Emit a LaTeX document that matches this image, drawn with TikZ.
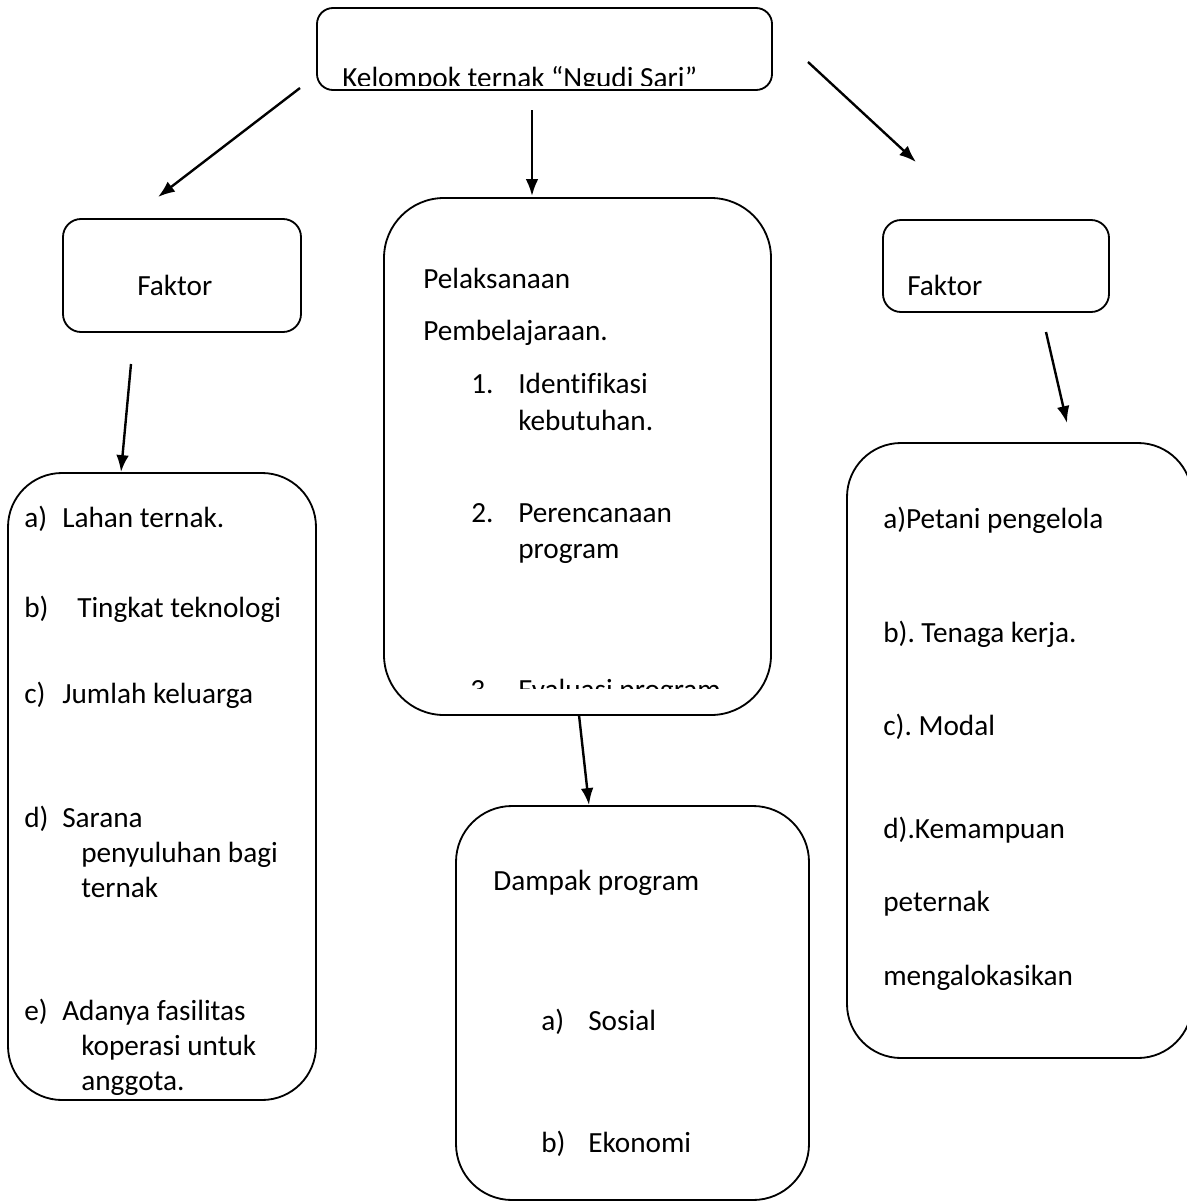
\documentclass[tikz,border=0pt]{standalone}
\usepackage{fontspec}
\setmainfont[Ligatures=NoCommon]{Carlito}
\frenchspacing
\usetikzlibrary{arrows.meta, fit}
\tikzset{>={Latex[length=12pt,width=9pt]}}
\tikzset{box/.style = {draw, line width=1.3pt, inner sep=0pt},
  txt/.style = {anchor=base west, inner sep=0pt, font=\fontsize{20.8}{25}\selectfont},
  link/.style = {->, line width=1.7pt}}

\begin{document}
\begin{tikzpicture}[x=0.025cm, y=-0.025cm]
\useasboundingbox (0,0) rectangle (1187,1203);
\node[box, rounded corners=4mm, fit={(317,8) (772,90)}] (kelompok) {};
\node[box, rounded corners=4.5mm, fit={(63,219) (301,332)}] (faktorA) {};
\node[box, rounded corners=15mm, fit={(384,198) (771,715)}] (pelaksanaan) {};
\node[box, rounded corners=4.5mm, fit={(883,220) (1109,312)}] (faktorB) {};
\node[box, rounded corners=13.5mm, fit={(8,473) (316,1100)}] (daftarA) {};
\node[box, rounded corners=14mm, fit={(456,806) (809,1200)}] (dampak) {};
\node[box, rounded corners=13.5mm, fit={(847,443) (1192,1058)}] (daftarB) {};

\begin{scope}
\clip (317,8) rectangle (772,85);
\node[txt] (judul) at (342,87) {Kelompok ternak “Ngudi Sari”};
\end{scope}
\node[txt] (fa) at (137,295) {Faktor};
\node[txt] (fb) at (907,295) {Faktor};

\node[txt] (p1) at (423,288) {Pelaksanaan};
\node[txt] (p2) at (423,340) {Pembelajaraan.};
\node[txt] (n1) at (471,393) {1.};
\node[txt] (p3) at (518,393) {Identifikasi};
\node[txt] (p4) at (518,430) {kebutuhan.};
\node[txt] (n2) at (471,522) {2.};
\node[txt] (p5) at (518,522) {Perencanaan};
\node[txt] (p6) at (518,558) {program};
\begin{scope}
\clip (384,600) rectangle (771,688);
\node[txt] (n3) at (470,699) {3.};
\node[txt] (p7) at (518,699) {Evaluasi program};
\end{scope}

\node[txt] (la) at (24,527) {a)};
\node[txt] (l1) at (62,527) {Lahan ternak.};
\node[txt] (lb) at (24,617) {b)};
\node[txt] (l2) at (77,617) {Tingkat teknologi};
\node[txt] (lc) at (24,703) {c)};
\node[txt] (l3) at (62,703) {Jumlah keluarga};
\node[txt] (ld) at (24,827) {d)};
\node[txt] (l4) at (62,827) {Sarana};
\node[txt] (l5) at (81,862) {penyuluhan bagi};
\node[txt] (l6) at (81,897) {ternak};
\node[txt] (le) at (24,1020) {e)};
\node[txt] (l7) at (62,1020) {Adanya fasilitas};
\node[txt] (l8) at (81,1055) {koperasi untuk};
\begin{scope}
\clip (8,1060) rectangle (316,1094);
\node[txt] (l9) at (81,1090) {anggota.};
\end{scope}

\node[txt] (r1) at (883,528) {a)Petani pengelola};
\node[txt] (r2) at (883,642) {b). Tenaga kerja.};
\node[txt] (r3) at (883,735) {c). Modal};
\node[txt] (r4) at (883,838) {d).Kemampuan};
\node[txt] (r5) at (883,911) {peternak};
\node[txt] (r6) at (883,985) {mengalokasikan};

\node[txt] (d1) at (493,890) {Dampak program};
\node[txt] (da) at (541,1030) {a)};
\node[txt] (d2) at (588,1030) {Sosial};
\node[txt] (db) at (541,1152) {b)};
\node[txt] (d3) at (588,1152) {Ekonomi};

\coordinate (s1) at (300,88);   \coordinate (e1) at (158,197);
\coordinate (s2) at (532,110);  \coordinate (e2) at (532,196);
\coordinate (s3) at (808,62);   \coordinate (e3) at (916,162);
\coordinate (s4) at (131,364);  \coordinate (e4) at (121,472);
\coordinate (s5) at (1046,332); \coordinate (e5) at (1067,423);
\coordinate (s6) at (579,715);  \coordinate (e6) at (589,805);
\draw[link] (s1) -- (e1);
\draw[link] (s2) -- (e2);
\draw[link] (s3) -- (e3);
\draw[link] (s4) -- (e4);
\draw[link] (s5) -- (e5);
\draw[link] (s6) -- (e6);
\end{tikzpicture}
\end{document}
